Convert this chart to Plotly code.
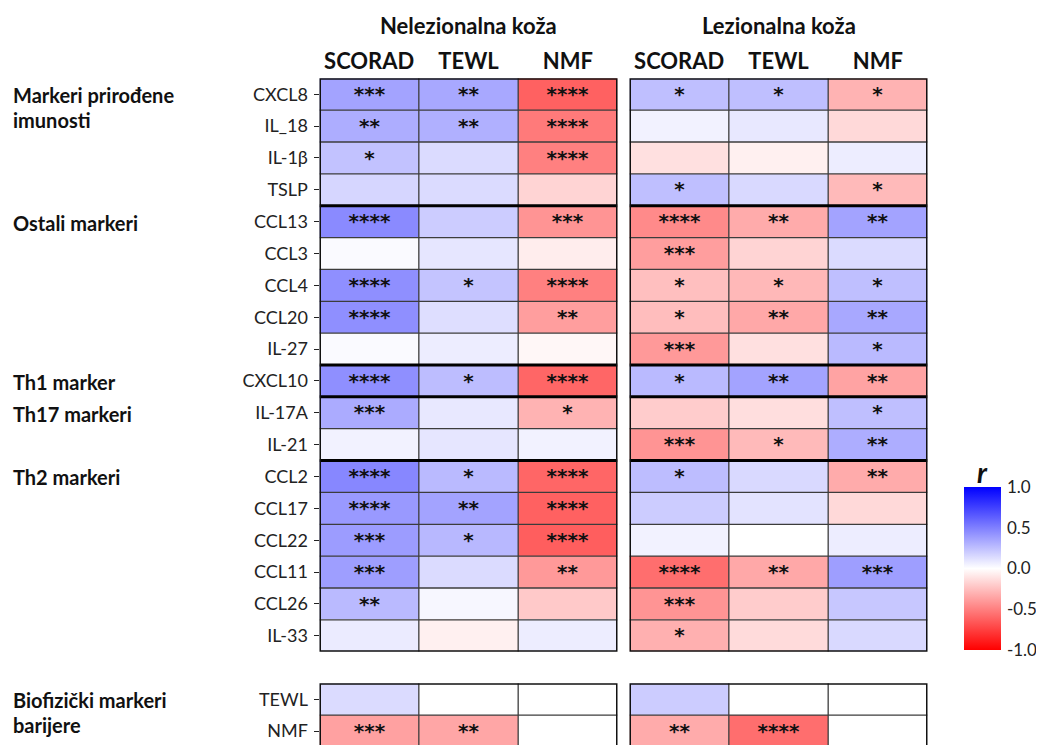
import plotly.graph_objects as go

# ---------------- data ----------------
markers = ["CXCL8", "IL_18", "IL-1β", "TSLP", "CCL13", "CCL3", "CCL4", "CCL20", "IL-27",
           "CXCL10", "IL-17A", "IL-21", "CCL2", "CCL17", "CCL22", "CCL11", "CCL26", "IL-33"]
group_labels = [["Markeri prirođene", "imunosti"], ["Ostali markeri"], ["Th1 marker"],
                ["Th17 markeri"], ["Th2 markeri"]]
group_sizes = [4, 5, 1, 2, 6]
columns = ["SCORAD", "TEWL", "NMF"]
skin_titles = ["Nelezionalna koža", "Lezionalna koža"]

# Nelezionalna koža: r values (SCORAD, TEWL, NMF)
nl_r = [
    [0.36, 0.34, -0.62],
    [0.32, 0.31, -0.52],
    [0.24, 0.14, -0.50],
    [0.16, 0.14, -0.17],
    [0.46, 0.20, -0.42],
    [0.02, 0.10, -0.07],
    [0.44, 0.23, -0.50],
    [0.44, 0.13, -0.38],
    [0.02, 0.07, -0.03],
    [0.44, 0.26, -0.60],
    [0.33, 0.09, -0.30],
    [0.05, 0.10, 0.05],
    [0.47, 0.27, -0.60],
    [0.40, 0.36, -0.62],
    [0.39, 0.28, -0.63],
    [0.38, 0.14, -0.40],
    [0.27, 0.03, -0.21],
    [0.08, -0.06, 0.07],
]
nl_sig = [
    [3, 2, 4], [2, 2, 4], [1, 0, 4], [0, 0, 0], [4, 0, 3], [0, 0, 0],
    [4, 1, 4], [4, 0, 2], [0, 0, 0], [4, 1, 4], [3, 0, 1], [0, 0, 0],
    [4, 1, 4], [4, 2, 4], [3, 1, 4], [3, 0, 2], [2, 0, 0], [0, 0, 0],
]

# Lezionalna koža: r values (SCORAD, TEWL, NMF)
l_r = [
    [0.25, 0.25, -0.30],
    [0.05, 0.09, -0.15],
    [-0.12, -0.06, 0.07],
    [0.25, 0.15, -0.27],
    [-0.46, -0.33, 0.36],
    [-0.38, -0.17, 0.14],
    [-0.25, -0.28, 0.25],
    [-0.26, -0.34, 0.34],
    [-0.40, -0.12, 0.27],
    [0.27, 0.36, -0.36],
    [-0.20, -0.13, 0.25],
    [-0.42, -0.27, 0.32],
    [0.26, 0.15, -0.33],
    [0.20, 0.11, -0.15],
    [0.05, 0.00, 0.07],
    [-0.57, -0.34, 0.38],
    [-0.42, -0.20, 0.22],
    [-0.31, -0.14, 0.15],
]
l_sig = [
    [1, 1, 1], [0, 0, 0], [0, 0, 0], [1, 0, 1], [4, 2, 2], [3, 0, 0],
    [1, 1, 1], [1, 2, 2], [3, 0, 1], [1, 2, 2], [0, 0, 1], [3, 1, 2],
    [1, 0, 2], [0, 0, 0], [0, 0, 0], [4, 2, 3], [3, 0, 0], [1, 0, 0],
]

bio_markers = ["TEWL", "NMF"]
bio_group = ["Biofizički markeri", "barijere"]
bio_nl_r = [[0.14, None, None], [-0.37, -0.35, None]]
bio_nl_sig = [[0, 0, 0], [3, 2, 0]]
bio_l_r = [[0.20, None, None], [-0.33, -0.57, None]]
bio_l_sig = [[0, 0, 0], [2, 4, 0]]

cbar_vals = [1.0, 0.5, 0.0, -0.5, -1.0]

# ---------------- layout geometry (window pixels; page body has an 8px margin) ----------------
WIN_W, WIN_H = 1044, 745
OFF = 8
W, H = WIN_W - OFF, WIN_H - OFF
def px_x(p): return (p - OFF) / W
def px_y(p): return 1 - (p - OFF) / H

X1 = (319.5, 617.5)
X2 = (629.5, 927.5)
Y_TOP = (78.3, 651.7)
Y_BOT_TOP = 683.3
row_h = (Y_TOP[1] - Y_TOP[0]) / len(markers)
vis_rows = (WIN_H - Y_BOT_TOP) / row_h

colorscale = [[0.0, "#ff0000"], [0.5, "#ffffff"], [1.0, "#0000ff"]]
FONT = "Lato"
STAR_FONT = "DejaVu Sans"

def stars(sig):
    return [["*" * s for s in row] for row in sig]

fig = go.Figure()

def add_heat(z, sig, ylabels, xa, ya, showscale=False):
    fig.add_trace(go.Heatmap(
        z=z, x=list(range(len(columns))), y=list(range(len(ylabels))),
        text=stars(sig), texttemplate="%{text}",
        textfont=dict(family=STAR_FONT, size=20, color="#111", weight="bold"),
        colorscale=colorscale, zmin=-1, zmax=1, xaxis=xa, yaxis=ya,
        showscale=showscale, hoverongaps=False,
        colorbar=dict(
            x=px_x(964), xanchor="left",
            y=px_y((486.7 + 650) / 2), yanchor="middle",
            len=(650 - 486.7) / H, lenmode="fraction",
            thickness=37, thicknessmode="pixels",
            outlinewidth=0, xpad=0, ypad=0,
            tickvals=cbar_vals, ticktext=[f"{v:.1f}" for v in cbar_vals],
            ticks="outside", ticklen=3, tickcolor="rgba(0,0,0,0)",
            tickfont=dict(family=FONT, size=17, color="#222"),
        ),
    ))

add_heat(nl_r, nl_sig, markers, "x", "y", showscale=True)
add_heat(l_r, l_sig, markers, "x2", "y")
add_heat(bio_nl_r, bio_nl_sig, bio_markers, "x", "y3")
add_heat(bio_l_r, bio_l_sig, bio_markers, "x2", "y3")

# ---------------- grid / borders ----------------
shapes = []
def panel_shapes(xref, yref, nrows, sizes):
    ncols = len(columns)
    bounds = []
    acc = 0
    for s in sizes[:-1]:
        acc += s
        bounds.append(acc)
    for c in range(1, ncols):
        shapes.append(dict(type="line", xref=xref, yref=yref, x0=c - 0.5, x1=c - 0.5,
                           y0=-0.5, y1=nrows - 0.5, line=dict(color="#3c3c3c", width=1.3), layer="above"))
    for r in range(1, nrows):
        if r in bounds:
            continue
        shapes.append(dict(type="line", xref=xref, yref=yref, x0=-0.5, x1=ncols - 0.5,
                           y0=r - 0.5, y1=r - 0.5, line=dict(color="#3c3c3c", width=1.3), layer="above"))
    for r in bounds:
        shapes.append(dict(type="line", xref=xref, yref=yref, x0=-0.5, x1=ncols - 0.5,
                           y0=r - 0.5, y1=r - 0.5, line=dict(color="#000", width=3), layer="above"))
    shapes.append(dict(type="rect", xref=xref, yref=yref, x0=-0.5, x1=ncols - 0.5,
                       y0=-0.5, y1=nrows - 0.5, line=dict(color="#111", width=3), layer="above"))

panel_shapes("x", "y", len(markers), group_sizes)
panel_shapes("x2", "y", len(markers), group_sizes)
panel_shapes("x", "y3", len(bio_markers), [len(bio_markers)])
panel_shapes("x2", "y3", len(bio_markers), [len(bio_markers)])

# ---------------- annotations ----------------
ann = []
for xr, title in zip(["x domain", "x2 domain"], skin_titles):
    ann.append(dict(text=title, xref=xr, x=0.5, yref="paper", y=px_y(25), xanchor="center",
                    yanchor="middle", showarrow=False,
                    font=dict(family=FONT, size=22, color="#111", weight="bold")))

LINE_SP = 25
start = 0
for lines, s in zip(group_labels, group_sizes):
    for k, line in enumerate(lines):
        ann.append(dict(text=line, xref="paper", x=px_x(11), xanchor="left",
                        yref="y", y=start, yanchor="middle", yshift=-k * LINE_SP - 1,
                        showarrow=False, font=dict(family=FONT, size=20, color="#111", weight="bold")))
    start += s
for k, line in enumerate(bio_group):
    ann.append(dict(text=line, xref="paper", x=px_x(11), xanchor="left",
                    yref="y3", y=0, yanchor="middle", yshift=-k * LINE_SP - 1,
                    showarrow=False, font=dict(family=FONT, size=20, color="#111", weight="bold")))

ann.append(dict(text="<b><i>r</i></b>", xref="paper", x=px_x(982), xanchor="center",
                yref="paper", y=px_y(472), yanchor="middle", showarrow=False,
                font=dict(family=FONT, size=28, color="#111")))

xcommon = dict(range=[-0.5, len(columns) - 0.5], tickvals=list(range(len(columns))),
               ticktext=columns, side="top", ticks="", showgrid=False, zeroline=False,
               showline=False, anchor="y", ticklabelstandoff=4,
               tickfont=dict(family=FONT, size=22, color="#111", weight="bold"))

fig.update_layout(
    width=W, height=H, margin=dict(l=0, r=0, t=0, b=0),
    paper_bgcolor="white", plot_bgcolor="white",
    xaxis=dict(domain=[px_x(X1[0]), px_x(X1[1])], **xcommon),
    xaxis2=dict(domain=[px_x(X2[0]), px_x(X2[1])], **xcommon),
    yaxis=dict(domain=[px_y(Y_TOP[1]), px_y(Y_TOP[0])], range=[len(markers) - 0.5, -0.5],
               tickvals=list(range(len(markers))), ticktext=markers, anchor="x",
               ticks="outside", ticklen=5, tickwidth=1.2, tickcolor="#222",
               ticklabelstandoff=2, showgrid=False, zeroline=False,
               tickfont=dict(family=FONT, size=18, color="#222")),
    yaxis3=dict(domain=[0, px_y(Y_BOT_TOP)], range=[vis_rows - 0.5, -0.5],
                tickvals=list(range(len(bio_markers))), ticktext=bio_markers, anchor="x",
                ticks="outside", ticklen=5, tickwidth=1.2, tickcolor="#222",
                ticklabelstandoff=2, showgrid=False, zeroline=False,
                tickfont=dict(family=FONT, size=18, color="#222")),
    shapes=shapes, annotations=ann, showlegend=False,
)

fig.write_html("out.html")
